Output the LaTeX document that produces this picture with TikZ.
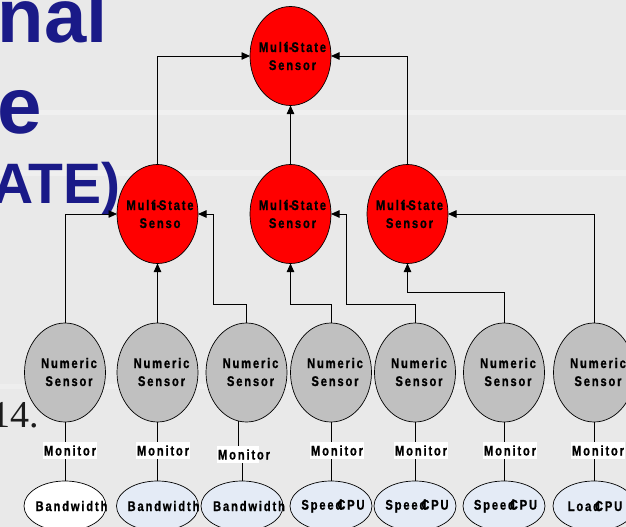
\documentclass[tikz,border=0pt]{standalone}
\usepackage{fontspec}
\setmainfont{Liberation Sans}
\newfontfamily\diagfont{Liberation Sans}[FakeStretch=0.8,LetterSpace=13,FakeBold=0.8]
\newfontfamily\titlefont{Liberation Sans}
\newfontfamily\serialfont{Liberation Serif}
\usetikzlibrary{shapes.geometric,arrows.meta,calc}

\definecolor{bgfill}{HTML}{E9E9E9}
\definecolor{titleblue}{HTML}{1A1A88}
\definecolor{sensorred}{HTML}{FF0000}
\definecolor{numgrey}{HTML}{C0C0C0}
\definecolor{srcblue}{HTML}{E4EBF6}
\definecolor{serialgrey}{HTML}{1C1C1C}

% the i and the hyphen of "Multi-State" run into their neighbours
\newcommand\multistate{Mult\kern-2pt\rlap{i}\kern3.6pt\rlap{-}\kern2.4pt State}

\begin{document}
\begin{tikzpicture}[x=1pt,y=-1pt,
  every node/.style={inner sep=0pt, outer sep=0pt},
  ring/.style={ellipse, draw=black, line width=0.7pt},
  multi/.style={ring, fill=sensorred, minimum width=81pt, minimum height=99pt},
  numeric/.style={ring, fill=numgrey, minimum width=81pt, minimum height=99pt},
  source/.style={ring, fill=srcblue, minimum width=82pt, minimum height=50pt},
  txt/.style={font=\diagfont\bfseries\fontsize{14}{18}\selectfont, align=center, text=black},
  monitor/.style={txt, fill=white, inner xsep=1pt, inner ysep=3.5pt},
  wire/.style={draw=black, line width=0.8pt},
  feed/.style={wire, -{Triangle[length=8.5pt,width=7.5pt]}},
  slidetext/.style={anchor=base west, text=titleblue, font=\titlefont\bfseries\fontsize{#1}{#1}\selectfont},
]
\useasboundingbox (0,0) rectangle (626,527);
\clip (0,0) rectangle (626,527);
\fill[bgfill] (0,0) rectangle (626,527);
% faint streaks of the slide background
\fill[white, opacity=0.35] (0,110) rectangle (626,115);
\fill[white, opacity=0.3] (0,170) rectangle (626,176);
\fill[white, opacity=0.25] (0,384) rectangle (626,389);

% slide title behind the diagram
\node[slidetext=76] (title1) at (-2,43) {nal};
\node[slidetext=80] (title2) at (-2,133) {e};
\node[slidetext=57] (title3) at (-8,203) {ATE)};
\node[anchor=base west, text=serialgrey, font=\serialfont\fontsize{38}{38}\selectfont] (serial) at (-9,427) {14.};

% multi-state sensors
\node[multi] (top) at (290.5,56) {};
\node[multi] (A) at (157.5,214) {};
\node[multi] (B) at (290.5,214) {};
\node[multi] (C) at (407.5,214) {};
\node[txt] (topt) at (292.5,56) {\multistate\\Sensor};
\node[txt] (At) at (160,214) {\multistate\\Senso};
\node[txt] (Bt) at (292.5,214) {\multistate\\Sensor};
\node[txt] (Ct) at (409.5,214) {\multistate\\Sensor};

% numeric sensors
\foreach \i/\x in {1/65,2/157.5,3/246.5,4/331,5/415,6/504,7/594}{
  \node[numeric] (n\i) at (\x,372.5) {};
  \node[txt] (n\i t) at (\x+4,372) {Numeric\\Sensor};
}

% monitored sources
\node[source, fill=white] (b1) at (65,506) {};
\node[source] (b2) at (157.5,506) {};
\node[source] (b3) at (242,506) {};
\node[source] (b4) at (331,506) {};
\node[source] (b5) at (415,506) {};
\node[source] (b6) at (504,506) {};
\node[source] (b7) at (594,506) {};
\node[txt] (b1t) at (71.5,506) {Bandwidth};
\node[txt] (b2t) at (163.5,506) {Bandwidth};
\node[txt] (b3t) at (249,506) {Bandwidth};
\node[txt] (b4t) at (333,506) {Speed\kern-5pt CPU};
\node[txt] (b5t) at (417,506) {Speed\kern-5pt CPU};
\node[txt] (b6t) at (505.5,506) {Speed\kern-5pt CPU};
\node[txt] (b7t) at (595,506) {Load\kern-5pt CPU};

% feeds into the multi-state sensors
\draw[feed] (A.north) |- (top.west);
\draw[feed] (B.north) -- (top.south);
\draw[feed] (C.north) |- (top.east);
\draw[feed] (n1.north) |- (A.west);
\draw[feed] (n2.north) -- (A.south);
\coordinate (j3) at (213,304);
\draw[feed] (n3.north) |- (j3) |- (A.east);
\coordinate (j4) at (290.5,304);
\draw[feed] (n4.north) |- (j4) -- (B.south);
\coordinate (j5) at (346,304);
\draw[feed] (n5.north) |- (j5) |- (B.east);
\coordinate (j6) at (407.5,292);
\draw[feed] (n6.north) |- (j6) -- (C.south);
\draw[feed] (n7.north) |- (C.east);

% monitor links
\foreach \i in {1,2,4,5,6,7}{
  \draw[wire] (n\i.south) -- (b\i.north);
}
\coordinate (m3a) at (238,454);
\coordinate (m3b) at (242,454);
\draw[wire] ($(n3.center)+(-8.5,48.4)$) -- (m3a);
\draw[wire] (m3b) -- (b3.north);

\node[monitor] (m1) at (70,450.5) {Monitor};
\node[monitor] (m2) at (163,450.5) {Monitor};
\fill[white] (217,446) rectangle (259,463);
\node[txt] (m3) at (244,454.5) {Monitor};
\node[monitor] (m4) at (337,450.5) {Monitor};
\node[monitor] (m5) at (421,450.5) {Monitor};
\node[monitor] (m6) at (510,450.5) {Monitor};
\node[monitor] (m7) at (598,450.5) {Monitor};
\end{tikzpicture}
\end{document}
